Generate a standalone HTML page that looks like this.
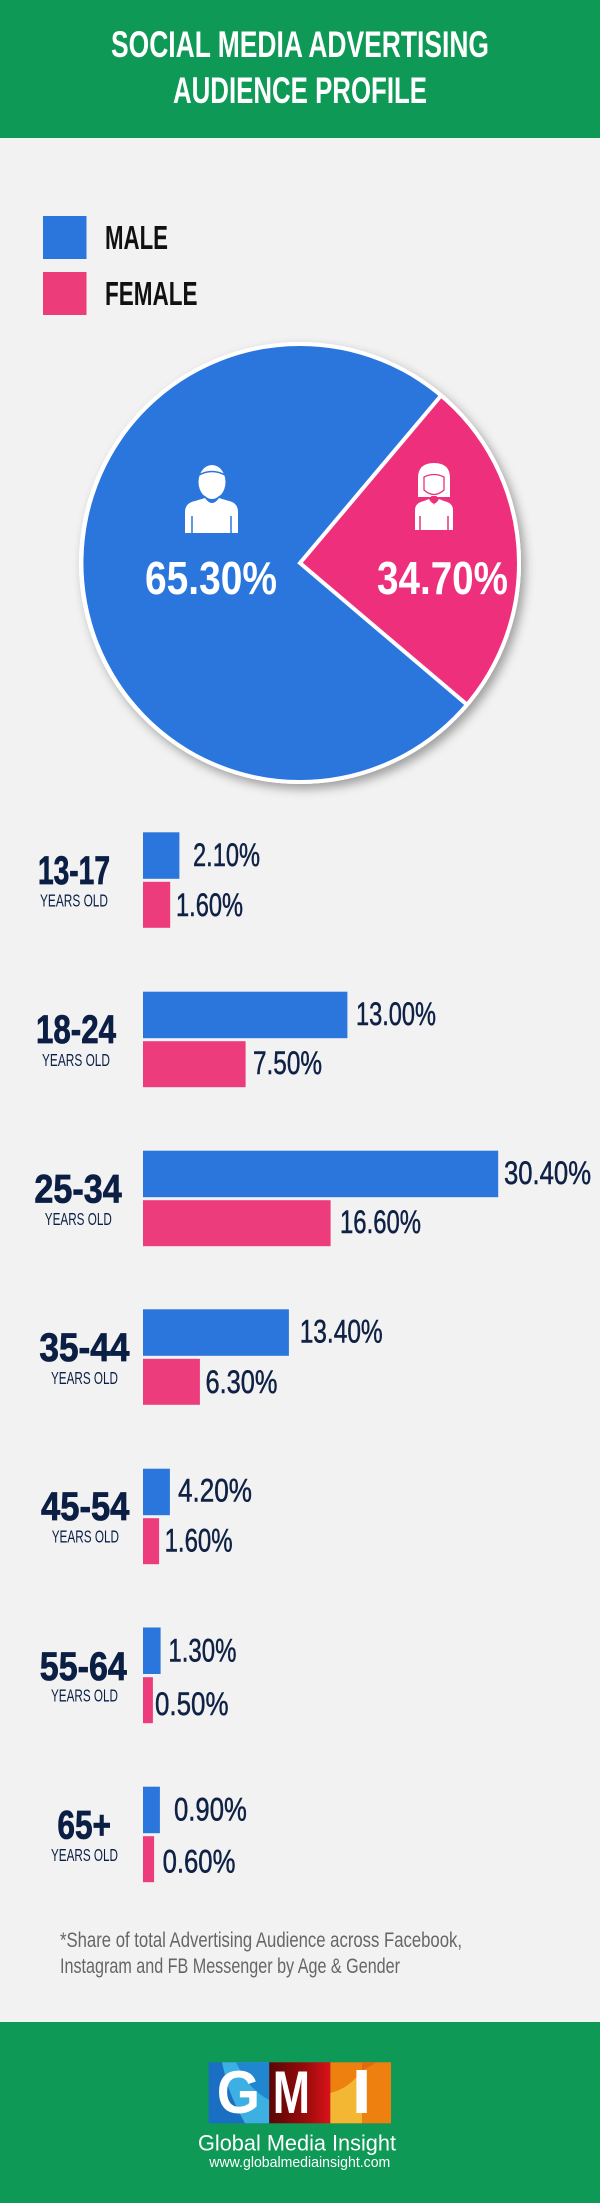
<!DOCTYPE html>
<html>
<head>
<meta charset="utf-8">
<style>
  html, body { margin: 0; padding: 0; background: #f2f2f2; }
  body { width: 600px; height: 2203px; overflow: hidden; }
  svg { display: block; }
  .t { font-family: "Liberation Sans", "DejaVu Sans", sans-serif; }
</style>
</head>
<body>
<svg width="600" height="2203" viewBox="0 0 600 2203" xmlns="http://www.w3.org/2000/svg">
  <defs>
    <filter id="sh" x="-10%" y="-10%" width="125%" height="125%">
      <feDropShadow dx="4" dy="5" stdDeviation="5" flood-color="#000" flood-opacity="0.35"/>
    </filter>
    <linearGradient id="gM" x1="0" y1="0" x2="1" y2="0">
      <stop offset="0" stop-color="#5a0606"/>
      <stop offset="0.6" stop-color="#9a0b0b"/>
      <stop offset="1" stop-color="#d9121a"/>
    </linearGradient>
  </defs>

  <!-- background -->
  <rect x="0" y="0" width="600" height="2203" fill="#f2f2f2"/>

  <!-- header -->
  <rect x="0" y="0" width="600" height="138" fill="#0e9956"/>
  <text class="t" x="111" y="57" font-size="37.5" font-weight="bold" fill="#ffffff" textLength="378" lengthAdjust="spacingAndGlyphs">SOCIAL MEDIA ADVERTISING</text>
  <text class="t" x="173" y="103" font-size="37.5" font-weight="bold" fill="#ffffff" textLength="254" lengthAdjust="spacingAndGlyphs">AUDIENCE PROFILE</text>

  <!-- legend -->
  <rect x="43" y="216" width="43.5" height="43" fill="#2a76dc"/>
  <rect x="43" y="272" width="43.5" height="43" fill="#ec3d7a"/>
  <text class="t" x="105" y="249" font-size="33" font-weight="bold" fill="#111111" textLength="63" lengthAdjust="spacingAndGlyphs">MALE</text>
  <text class="t" x="105" y="305" font-size="33" font-weight="bold" fill="#111111" textLength="92.5" lengthAdjust="spacingAndGlyphs">FEMALE</text>

  <!-- pie -->
  <g filter="url(#sh)">
    <circle cx="300" cy="563" r="221" fill="#ffffff"/>
  </g>
  <path d="M300,563 L467.0,704.7 A218,218 0 1,1 441.1,395.5 Z" fill="#2a76dc"/>
  <path d="M300,563 L441.1,395.5 A218,218 0 0,1 467.0,704.7 Z" fill="#ee2f7b"/>
  <path d="M441.1,395.5 L300,563 L467.0,704.7" fill="none" stroke="#ffffff" stroke-width="4" stroke-linejoin="miter"/>
  <circle cx="300" cy="563" r="219" fill="none" stroke="#ffffff" stroke-width="4"/>

  <!-- male icon -->
  <g fill="#ffffff">
    <ellipse cx="212" cy="482" rx="13.5" ry="17"/>
    <path d="M185,533 L185,512 Q185,503 195,501 L205,498 Q212,508 219,498 L229,501 Q238,503 238,512 L238,533 Z"/>
  </g>
  <path d="M199,475 Q212,468 225,475" fill="none" stroke="#2a76dc" stroke-width="1.5"/>
  <path d="M204,496 Q212,504 220,496" fill="none" stroke="#2a76dc" stroke-width="1.5"/>
  <line x1="192" y1="516" x2="192" y2="533" stroke="#2a76dc" stroke-width="1.5"/>
  <line x1="231" y1="516" x2="231" y2="533" stroke="#2a76dc" stroke-width="1.5"/>

  <!-- female icon -->
  <g fill="#ffffff">
    <path d="M418,497 L418,478 Q418,463 434,463 Q450,463 450,478 L450,497 Z"/>
    <path d="M415,530 L415,510 Q415,503 424,501 L429,499 Q434,508 439,499 L444,501 Q453,503 453,510 L453,530 Z"/>
  </g>
  <path d="M424,477 Q434,472 444,477 L444,490 Q434,499 424,490 Z" fill="none" stroke="#ee2f7b" stroke-width="1.3"/>
  <path d="M431,496 L434,505 L437,496" fill="#ee2f7b"/>
  <line x1="420" y1="516" x2="420" y2="530" stroke="#ee2f7b" stroke-width="1.5"/>
  <line x1="448" y1="516" x2="448" y2="530" stroke="#ee2f7b" stroke-width="1.5"/>

  <!-- pie labels -->
  <text class="t" x="145" y="594" font-size="46" font-weight="bold" fill="#ffffff" textLength="132" lengthAdjust="spacingAndGlyphs">65.30%</text>
  <text class="t" x="377" y="594" font-size="46" font-weight="bold" fill="#ffffff" textLength="131" lengthAdjust="spacingAndGlyphs">34.70%</text>

  <!-- bars -->
  <g fill="#2a76dc">
    <rect x="143" y="832.3" width="36.4" height="46.5"/>
    <rect x="143" y="991.7" width="204.4" height="46.5"/>
    <rect x="143" y="1150.7" width="355.2" height="46.5"/>
    <rect x="143" y="1309.3" width="145.9" height="46.5"/>
    <rect x="143" y="1468.7" width="26.9" height="46.5"/>
    <rect x="143" y="1627.5" width="17.6" height="46.5"/>
    <rect x="143" y="1786.7" width="16.9" height="46.5"/>
  </g>
  <g fill="#ec3c7b">
    <rect x="143" y="881.8" width="27.2" height="46"/>
    <rect x="143" y="1041.2" width="102.6" height="46"/>
    <rect x="143" y="1200.2" width="187.6" height="46"/>
    <rect x="143" y="1358.8" width="56.9" height="46"/>
    <rect x="143" y="1518.2" width="16.1" height="46"/>
    <rect x="143" y="1677.2" width="9.9" height="46"/>
    <rect x="143" y="1836.2" width="11.1" height="46"/>
  </g>

  <!-- value labels -->
  <g class="t" font-size="32" fill="#0f2145" stroke="#0f2145" stroke-width="0.5">
    <text x="193" y="866" textLength="67" lengthAdjust="spacingAndGlyphs">2.10%</text>
    <text x="176" y="916" textLength="67" lengthAdjust="spacingAndGlyphs">1.60%</text>
    <text x="356" y="1025" textLength="80" lengthAdjust="spacingAndGlyphs">13.00%</text>
    <text x="253" y="1074" textLength="69" lengthAdjust="spacingAndGlyphs">7.50%</text>
    <text x="504" y="1184" textLength="87" lengthAdjust="spacingAndGlyphs">30.40%</text>
    <text x="340" y="1233" textLength="81" lengthAdjust="spacingAndGlyphs">16.60%</text>
    <text x="299.7" y="1342.7" textLength="83" lengthAdjust="spacingAndGlyphs">13.40%</text>
    <text x="205.5" y="1393" textLength="72" lengthAdjust="spacingAndGlyphs">6.30%</text>
    <text x="178" y="1501.7" textLength="74" lengthAdjust="spacingAndGlyphs">4.20%</text>
    <text x="164.6" y="1551.7" textLength="68" lengthAdjust="spacingAndGlyphs">1.60%</text>
    <text x="168.4" y="1661.7" textLength="68" lengthAdjust="spacingAndGlyphs">1.30%</text>
    <text x="155" y="1715" textLength="73.5" lengthAdjust="spacingAndGlyphs">0.50%</text>
    <text x="174" y="1820.7" textLength="72.8" lengthAdjust="spacingAndGlyphs">0.90%</text>
    <text x="162.6" y="1872.3" textLength="72.8" lengthAdjust="spacingAndGlyphs">0.60%</text>
  </g>

  <!-- age labels -->
  <g class="t" font-size="40" font-weight="bold" fill="#0b1f45" stroke="#0b1f45" stroke-width="0.8">
    <text x="38" y="884" textLength="72" lengthAdjust="spacingAndGlyphs">13-17</text>
    <text x="36" y="1043" textLength="80" lengthAdjust="spacingAndGlyphs">18-24</text>
    <text x="34.4" y="1202.7" textLength="87.3" lengthAdjust="spacingAndGlyphs">25-34</text>
    <text x="39.4" y="1361" textLength="90" lengthAdjust="spacingAndGlyphs">35-44</text>
    <text x="41" y="1520" textLength="88.4" lengthAdjust="spacingAndGlyphs">45-54</text>
    <text x="39.8" y="1680" textLength="87" lengthAdjust="spacingAndGlyphs">55-64</text>
    <text x="57.4" y="1838.3" textLength="53.6" lengthAdjust="spacingAndGlyphs">65+</text>
  </g>
  <g class="t" font-size="17.6" fill="#0b1f45">
    <text x="40" y="906.7" textLength="68" lengthAdjust="spacingAndGlyphs">YEARS OLD</text>
    <text x="42" y="1066" textLength="68" lengthAdjust="spacingAndGlyphs">YEARS OLD</text>
    <text x="44.8" y="1225" textLength="67" lengthAdjust="spacingAndGlyphs">YEARS OLD</text>
    <text x="51" y="1384" textLength="67" lengthAdjust="spacingAndGlyphs">YEARS OLD</text>
    <text x="51.7" y="1542.7" textLength="67.3" lengthAdjust="spacingAndGlyphs">YEARS OLD</text>
    <text x="51" y="1701.7" textLength="67" lengthAdjust="spacingAndGlyphs">YEARS OLD</text>
    <text x="51" y="1861" textLength="67" lengthAdjust="spacingAndGlyphs">YEARS OLD</text>
  </g>

  <!-- footnote -->
  <g class="t" font-size="21" fill="#666666">
    <text x="60" y="1947" textLength="402" lengthAdjust="spacingAndGlyphs">*Share of total Advertising Audience across Facebook,</text>
    <text x="60" y="1973" textLength="340" lengthAdjust="spacingAndGlyphs">Instagram and FB Messenger by Age &amp; Gender</text>
  </g>

  <!-- footer -->
  <rect x="0" y="2022" width="600" height="181" fill="#0e9956"/>

  <!-- logo -->
  <rect x="208.6" y="2062.3" width="60.6" height="61" fill="#1b6fc2"/>
  <path d="M222,2062.3 L269.2,2062.3 L269.2,2123.3 L245,2123.3 Q232,2100 226,2080 Z" fill="#3db0e3"/>
  <path d="M236,2062.3 L269.2,2062.3 L269.2,2100 Q250,2090 240,2070 Z" fill="#1f86cf"/>
  <rect x="269.2" y="2062.3" width="61.2" height="61" fill="url(#gM)"/>
  <rect x="330.4" y="2062.3" width="60.6" height="61" fill="#ee8010"/>
  <path d="M330.4,2093 Q350,2088 362,2070 L362,2123.3 L330.4,2123.3 Z" fill="#f4b733"/>
  <path d="M362,2070 Q372,2066 376,2062.3 L362,2062.3 Z" fill="#e26a0e"/>
  <g class="t" font-size="60" font-weight="bold" fill="#ffffff">
    <text x="216.7" y="2113" textLength="43.3" lengthAdjust="spacingAndGlyphs">G</text>
    <text x="272.7" y="2113" textLength="37.3" lengthAdjust="spacingAndGlyphs">M</text>
    <rect x="356.4" y="2070" width="10.4" height="43"/>
  </g>
  <text class="t" x="198" y="2150.7" font-size="22" fill="#ffffff" textLength="198" lengthAdjust="spacingAndGlyphs">Global Media Insight</text>
  <text class="t" x="209.3" y="2167" font-size="14.5" fill="#ffffff" textLength="181" lengthAdjust="spacingAndGlyphs">www.globalmediainsight.com</text>
</svg>
</body>
</html>
